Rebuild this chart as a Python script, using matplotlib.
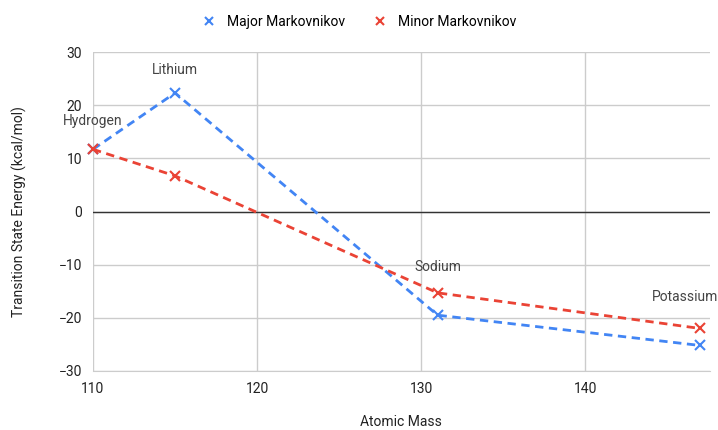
import matplotlib
matplotlib.use("Agg")
import matplotlib.pyplot as plt

plt.rcParams['font.family'] = ['Roboto', 'DejaVu Sans']

atomic_mass = [110, 115, 131, 147]
elements = ["Hydrogen", "Lithium", "Sodium", "Potassium"]
major_energy = [11.7, 22.3, -19.5, -25.2]
minor_energy = [11.7, 6.7, -15.3, -22.0]

BLUE = "#4285f4"
RED = "#ea4335"

fig = plt.figure(figsize=(7.18, 4.30), dpi=100)
ax = fig.add_axes([93 / 718, 1 - 371 / 430, (710 - 93) / 718, (371 - 52) / 430])

ax.plot(atomic_mass, major_energy, color=BLUE, linestyle=(0, (3, 2)), linewidth=2,
        marker="x", markersize=7, markeredgewidth=1.5, label="Major Markovnikov",
        zorder=3, clip_on=False)
ax.plot(atomic_mass, minor_energy, color=RED, linestyle=(0, (3, 2)), linewidth=2,
        marker="x", markersize=7, markeredgewidth=1.5, label="Minor Markovnikov",
        zorder=3, clip_on=False)

ax.axhline(0, color="#333333", linewidth=1, zorder=2)

# point labels
label_pts = [(atomic_mass[0], minor_energy[0], (0, 28)),
             (atomic_mass[1], major_energy[1], (0, 23)),
             (atomic_mass[2], minor_energy[2], (0, 26)),
             (atomic_mass[3], minor_energy[3], (-15, 31))]
for name, (x, y, off) in zip(elements, label_pts):
    ax.annotate(name, (x, y), xytext=off, textcoords="offset pixels",
                ha="center", va="center", fontsize=10, color="#444444")

ax.set_xlim(110, 147.6)
ax.set_ylim(-30, 30)
ax.set_xticks([110, 120, 130, 140])
ax.set_yticks([-30, -20, -10, 0, 10, 20, 30])
ax.grid(True, color="#cccccc", linewidth=1, zorder=0)
ax.set_axisbelow(True)
for s in ["top", "right", "left"]:
    ax.spines[s].set_visible(False)
ax.spines["bottom"].set_color("#cccccc")
ax.tick_params(length=0, labelsize=10, colors="#222222", pad=8)

fig.text(401 / 718, 1 - 422 / 430, "Atomic Mass", ha="center", va="center",
         fontsize=10, color="#222222")
ax.set_ylabel("Transition State Energy (kcal/mol)", fontsize=10, color="#222222")
ax.yaxis.set_label_coords(-66 / 617, 0.5)

fig.legend(loc="upper center", bbox_to_anchor=(0.5, 0.995), ncol=2, frameon=False,
           fontsize=10, handlelength=1.0, columnspacing=2, markerscale=0.9)
leg = fig.legends[0]
for h in leg.legend_handles:
    h.set_linestyle("none")

fig.savefig("out.png", dpi=100)
